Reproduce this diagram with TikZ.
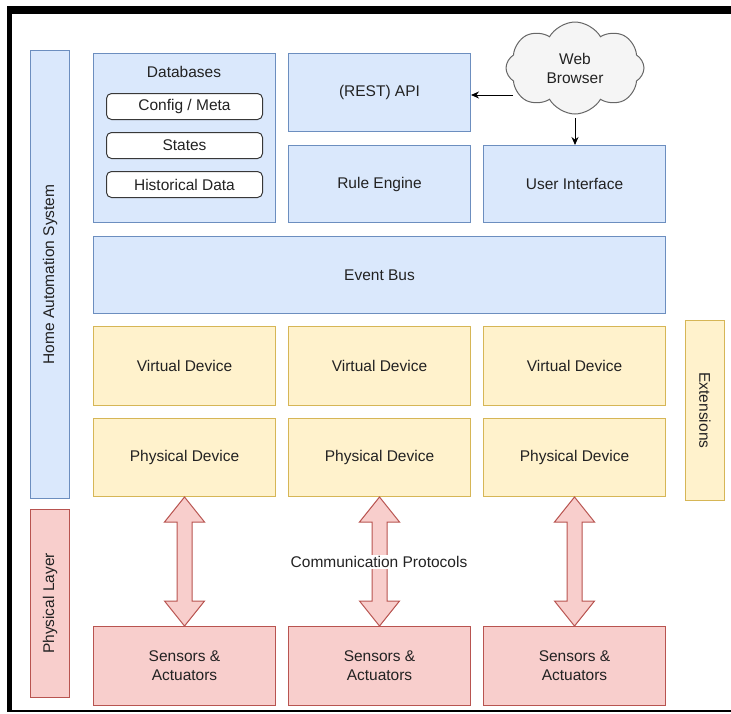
\documentclass[tikz,border=0pt]{standalone}
\usepackage{fontspec}
\setmainfont{Liberation Sans}
\usetikzlibrary{shapes.symbols,arrows.meta,calc}
\definecolor{bfill}{HTML}{DAE8FC}
\definecolor{bline}{HTML}{6C8EBF}
\definecolor{yfill}{HTML}{FFF2CC}
\definecolor{yline}{HTML}{D6B656}
\definecolor{rfill}{HTML}{F8CECC}
\definecolor{rline}{HTML}{B85450}
\definecolor{cfill}{HTML}{F5F5F5}
\definecolor{cline}{HTML}{666666}
\definecolor{txt}{HTML}{222222}
\tikzset{
  base/.style={draw, line width=1pt, anchor=north west, inner sep=0pt, text=txt,
    font=\fontsize{15.5}{19}\selectfont, align=center},
  bluebox/.style={base, fill=bfill, draw=bline},
  yelbox/.style={base, fill=yfill, draw=yline},
  redbox/.style={base, fill=rfill, draw=rline},
  dbitem/.style={base, fill=white, draw=txt!90, rounded corners=5pt, minimum width=156pt, minimum height=26pt},
  colbox/.style={minimum width=182pt},
  plain/.style={text=txt, font=\fontsize{15.5}{19}\selectfont, align=center, inner sep=1pt},
  arr/.style={draw=black, line width=1pt, -{Stealth[length=8pt,width=7pt]}},
  proto/.style={draw=rline, fill=rfill, line width=1pt, line join=miter},
}
\begin{document}
\begin{tikzpicture}[x=1pt,y=-1pt]
\useasboundingbox (0,0) rectangle (731,713);
% frame
\fill[black] (7,6) rectangle (731,14);
\fill[black] (7,6) rectangle (12,712);
\fill[black] (7,710) rectangle (731,712);

% side bars
\node[bluebox, minimum width=39pt, minimum height=448pt] (has) at (30,50) {};
\node[plain, rotate=90] (hast) at (has.center) {Home Automation System};
\node[redbox, minimum width=39pt, minimum height=188pt] (pl) at (30,509) {};
\node[plain, rotate=90] (plt) at (pl.center) {Physical Layer};
\node[yelbox, minimum width=39pt, minimum height=180pt] (ext) at (685,320) {};
\node[plain, rotate=-90] (extt) at (ext.center) {Extensions};

% databases
\node[bluebox, colbox, minimum height=169pt] (db) at (93,53) {};
\node[plain] (dbt) at (184,72) {Databases};
\node[dbitem] (cfg) at (106,93) {Config / Meta};
\node[dbitem] (st) at (106,132) {States};
\node[dbitem] (hd) at (106,171) {Historical Data};

% top row
\node[bluebox, colbox, minimum height=78pt] (api) at (288,53) {(REST) API};
\node[bluebox, colbox, minimum height=77pt] (re) at (288,145) {Rule Engine};
\node[bluebox, colbox, minimum height=77pt] (ui) at (483,145) {User Interface};

% cloud
\node[cloud, draw=cline, fill=cfill, line width=1pt, cloud puffs=8, cloud puff arc=120,
      aspect=1.5, minimum width=138pt, minimum height=92pt, inner sep=0pt,
      text=txt, font=\fontsize{15.5}{19}\selectfont, align=center] (cloud) at (575,68) {Web\\Browser};
\coordinate (cw) at (513,95);
\draw[arr] (cw) -- (cw -| api.east);
\coordinate (cs) at (575,118);
\draw[arr] (cs) -- (cs |- ui.north);

% event bus
\node[bluebox, minimum width=572pt, minimum height=77pt] (eb) at (93,236) {Event Bus};

% devices
\node[yelbox, colbox, minimum height=79pt] (vd1) at (93,326) {Virtual Device};
\node[yelbox, colbox, minimum height=79pt] (vd2) at (288,326) {Virtual Device};
\node[yelbox, colbox, minimum height=79pt] (vd3) at (483,326) {Virtual Device};
\node[yelbox, colbox, minimum height=78pt] (pd1) at (93,418) {Physical Device};
\node[yelbox, colbox, minimum height=78pt] (pd2) at (288,418) {Physical Device};
\node[yelbox, colbox, minimum height=78pt] (pd3) at (483,418) {Physical Device};

% sensors
\node[redbox, colbox, minimum height=79pt] (sa1) at (93,626) {Sensors \&\\Actuators};
\node[redbox, colbox, minimum height=79pt] (sa2) at (288,626) {Sensors \&\\Actuators};
\node[redbox, colbox, minimum height=79pt] (sa3) at (483,626) {Sensors \&\\Actuators};

% communication arrows
\foreach \i in {1,2,3}{
  \draw[proto] (pd\i.south) -- ++(20,25) -- ++(-12.5,0)
    -- ($(sa\i.north)+(7.5,-25)$) -- ++(12.5,0) -- (sa\i.north)
    -- ++(-20,-25) -- ++(12.5,0)
    -- ($(pd\i.south)+(-7.5,25)$) -- ++(-12.5,0) -- cycle;
}
\node[plain, fill=white] (cp) at (379,562) {Communication Protocols};
\end{tikzpicture}
\end{document}
